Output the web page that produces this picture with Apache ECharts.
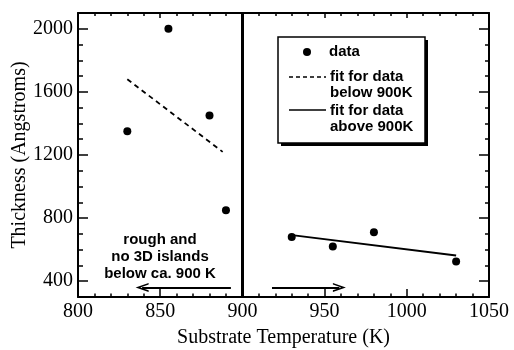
<!DOCTYPE html>
<html><head><meta charset="utf-8">
<script src="https://cdn.jsdelivr.net/npm/echarts@6/dist/echarts.min.js"></script>
<style>html,body{margin:0;padding:0;background:#fff}#c{width:514px;height:350px}</style>
</head><body><div id="c"></div>
<script>
const temperature = [830, 855, 880, 890, 930, 955, 980, 1030];
const thickness = [1350, 2000, 1450, 850, 680, 620, 710, 525];
const fitBelowT = [830, 888];
const fitBelowY = [1680, 1220];
const fitAboveT = [929, 1030];
const fitAboveY = [694, 563];
const boundaryT = 900;
const yTicks = [400, 800, 1200, 1600, 2000];
const arrowLeftT = [893, 839];
const arrowRightT = [918, 959];
const arrowY = 361;
const annotation = 'rough and\nno 3D islands\nbelow ca. 900 K';
const legendLabels = ['data', 'fit for data\nbelow 900K', 'fit for data\nabove 900K'];

const serif = '"Liberation Serif", "Times New Roman", serif';
const sans = '"Liberation Sans", Arial, sans-serif';
const K = '#000';

const chart = echarts.init(document.getElementById('c'), null, {renderer: 'canvas'});

const plain = v => String(v);

const xBase = {
  type: 'value', min: 800, max: 1050, interval: 50,
  splitLine: {show: false},
  axisLine: {show: true, onZero: false, lineStyle: {color: K, width: 2}},
};
const yBase = {
  type: 'value', min: 300, max: 2100, interval: 100,
  splitLine: {show: false},
  axisLine: {show: true, onZero: false, lineStyle: {color: K, width: 2}},
};

const arrowPath = 'path://M0,0 L7,14 L4.5,14 L0,5 L-4.5,14 L-7,14 Z';

chart.setOption({
  backgroundColor: '#fff',
  animation: false,
  grid: {left: 78, top: 13, right: 25, bottom: 53, containLabel: false, outerBoundsMode: 'none'},
  xAxis: [
    Object.assign({}, xBase, {
      position: 'bottom',
      name: 'Substrate Temperature (K)', nameLocation: 'middle', nameGap: 31, nameMoveOverlap: false,
      nameTextStyle: {fontFamily: serif, fontSize: 20, color: K},
      axisTick: {inside: true, length: 8, lineStyle: {color: K, width: 1.5}},
      minorTick: {show: true, splitNumber: 5, length: 3.5, lineStyle: {color: K, width: 1.5}},
      axisLabel: {fontFamily: serif, fontSize: 20, color: K, margin: 5, formatter: plain}
    }),
    Object.assign({}, xBase, {
      position: 'top',
      axisTick: {inside: true, length: 5, lineStyle: {color: K, width: 1.5}},
      minorTick: {show: true, splitNumber: 5, length: 3, lineStyle: {color: K, width: 1.5}},
      axisLabel: {show: false}
    })
  ],
  yAxis: [
    Object.assign({}, yBase, {
      position: 'left',
      name: 'Thickness (Angstroms)', nameLocation: 'middle', nameGap: 48, nameMoveOverlap: false,
      nameTextStyle: {fontFamily: serif, fontSize: 20, color: K},
      axisTick: {inside: true, length: 5, lineStyle: {color: K, width: 1.5}},
      axisLabel: {customValues: yTicks, fontFamily: serif, fontSize: 20, color: K, margin: 5, formatter: plain}
    }),
    Object.assign({}, yBase, {
      position: 'left',
      axisLine: {show: false},
      axisTick: {inside: true, length: 10, customValues: yTicks, lineStyle: {color: K, width: 1.5}},
      axisLabel: {show: false}
    }),
    Object.assign({}, yBase, {
      position: 'right',
      axisTick: {inside: true, length: 4, lineStyle: {color: K, width: 1.5}},
      axisLabel: {show: false}
    }),
    Object.assign({}, yBase, {
      position: 'right',
      axisLine: {show: false},
      axisTick: {inside: true, length: 10, customValues: yTicks, lineStyle: {color: K, width: 1.5}},
      axisLabel: {show: false}
    })
  ],
  series: [
    {
      type: 'scatter', name: 'data', symbol: 'circle', symbolSize: 8,
      itemStyle: {color: K, opacity: 1},
      data: temperature.map((t, i) => [t, thickness[i]]),
      z: 5
    },
    {
      type: 'line', name: 'fit below', showSymbol: false, symbol: 'none',
      lineStyle: {color: K, width: 1.8, type: [5, 4]},
      data: fitBelowT.map((t, i) => [t, fitBelowY[i]])
    },
    {
      type: 'line', name: 'fit above', showSymbol: false, symbol: 'none',
      lineStyle: {color: K, width: 1.8},
      data: fitAboveT.map((t, i) => [t, fitAboveY[i]])
    },
    {
      type: 'line', data: [], silent: true,
      markLine: {
        silent: true, symbol: ['none', 'none'], label: {show: false},
        lineStyle: {color: K, width: 3, type: 'solid'},
        data: [{xAxis: boundaryT}]
      }
    },
    {
      type: 'line', data: [], silent: true,
      markLine: {
        silent: true, symbol: ['none', arrowPath], symbolSize: [9, 13], label: {show: false},
        lineStyle: {color: K, width: 1.8, type: 'solid'},
        data: [
          [{coord: [arrowLeftT[0], arrowY]}, {coord: [arrowLeftT[1], arrowY]}],
          [{coord: [arrowRightT[0], arrowY]}, {coord: [arrowRightT[1], arrowY]}]
        ]
      }
    }
  ],
  graphic: [
    {type: 'text', x: 160, y: 231, z: 10, style: {text: annotation, align: 'center', verticalAlign: 'top',
      font: 'bold 15px ' + sans, fill: K, lineHeight: 17}},
    {type: 'group', x: 278, y: 37, z: 20, children: [
      {type: 'rect', shape: {x: 3, y: 3, width: 147, height: 106}, style: {fill: K}},
      {type: 'rect', shape: {x: 0, y: 0, width: 147, height: 106}, style: {fill: '#fff', stroke: K, lineWidth: 1.5}},
      {type: 'circle', shape: {cx: 29, cy: 15, r: 4}, style: {fill: K}},
      {type: 'text', x: 51, y: 15, style: {text: legendLabels[0], font: 'bold 15px ' + sans, fill: K, verticalAlign: 'middle'}},
      {type: 'line', shape: {x1: 11, y1: 40, x2: 48, y2: 40}, style: {stroke: K, lineWidth: 1.5, lineDash: [4, 3]}},
      {type: 'text', x: 52, y: 32, style: {text: legendLabels[1], font: 'bold 15px ' + sans, fill: K, verticalAlign: 'top', lineHeight: 16}},
      {type: 'line', shape: {x1: 11, y1: 73, x2: 48, y2: 73}, style: {stroke: K, lineWidth: 1.5}},
      {type: 'text', x: 52, y: 66, style: {text: legendLabels[2], font: 'bold 15px ' + sans, fill: K, verticalAlign: 'top', lineHeight: 16}}
    ]}
  ]
});
</script></body></html>
